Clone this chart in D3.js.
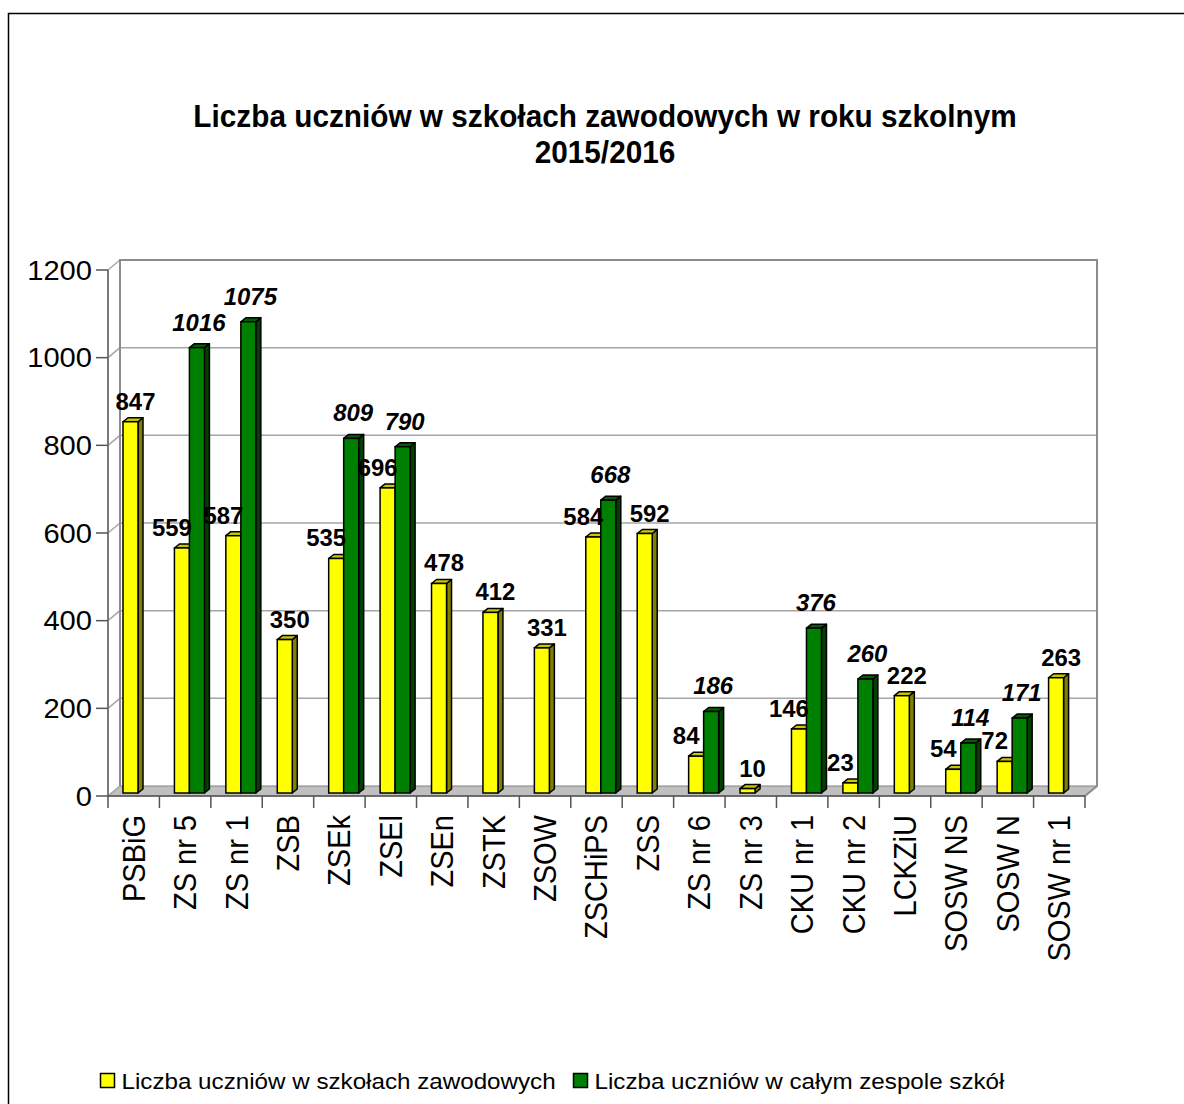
<!DOCTYPE html>
<html>
<head>
<meta charset="utf-8">
<script src="https://cdn.jsdelivr.net/npm/d3@7"></script>
<style>
  html, body { margin: 0; padding: 0; background: #fff; }
  svg { display: block; font-family: "Liberation Sans", Arial, sans-serif; }
</style>
</head>
<body>
<div id="chart"></div>
<script>
// dane
const categories = ["PSBiG", "ZS nr 5", "ZS nr 1", "ZSB", "ZSEk", "ZSEl", "ZSEn", "ZSTK", "ZSOW",
  "ZSCHiPS", "ZSS", "ZS nr 6", "ZS nr 3", "CKU nr 1", "CKU nr 2", "LCKZiU", "SOSW NS", "SOSW N", "SOSW nr 1"];
const zawodowe = [847, 559, 587, 350, 535, 696, 478, 412, 331, 584, 592, 84, 10, 146, 23, 222, 54, 72, 263];
const zespol = [null, 1016, 1075, null, 809, 790, null, null, null, 668, null, 186, null, 376, 260, null, 114, 171, null];
const yTicks = [0, 200, 400, 600, 800, 1000, 1200];
const seriesNames = ["Liczba uczniów w szkołach zawodowych", "Liczba uczniów w całym zespole szkół"];
const titleLines = ["Liczba uczniów w szkołach zawodowych w roku szkolnym", "2015/2016"];

const width = 1184;
const height = 1104;

const svg = d3.select("#chart")
  .append("svg")
  .attr("width", width)
  .attr("height", height);

// ramka wykresu (wychodzi poza kadr)
svg.append("rect")
  .attr("x", 8.5)
  .attr("y", 13.5)
  .attr("width", 1220)
  .attr("height", 1120)
  .attr("fill", "#fff")
  .attr("stroke", "#000")
  .attr("stroke-width", 1.5);

// fragment tekstu z poprzedniej strony (ucięty jak w oryginale)
svg.append("text")
  .attr("x", 24)
  .attr("y", -4)
  .attr("font-size", 20)
  .attr("font-weight", "bold")
  .attr("font-style", "italic")
  .text("y");

// tytuł
svg.append("g")
  .selectAll("text")
  .data(titleLines)
  .enter()
  .append("text")
  .attr("transform", (d, i) => `translate(605,${127 + i * 36}) scale(0.93,1)`)
  .attr("text-anchor", "middle")
  .attr("font-size", 32)
  .attr("font-weight", "bold")
  .text((d) => d);

// skale
const x = d3.scaleBand().domain(categories).range([108, 1085]).padding(0);
const y = d3.scaleLinear().domain([0, 1200]).range([796, 270]);
const inner = d3.scaleBand().domain([0, 1]).range([15, 45]).padding(0);

const dx = 12, dy = -10; // głębia ścian
const bx = 5, by = -4;   // głębia słupków
const lift = 3;

const g = svg.append("g");

// podłoga
g.append("path")
  .attr("d", `M${x.range()[0]},${y(0)}L${x.range()[1]},${y(0)}L${x.range()[1] + dx},${y(0) + dy}L${x.range()[0] + dx},${y(0) + dy}Z`)
  .attr("fill", "#c0c0c0")
  .attr("stroke", "#808080")
  .attr("stroke-width", 1);

// linie siatki na tylnej ścianie
g.append("g")
  .selectAll("line")
  .data(yTicks.filter((t) => t > 0))
  .enter()
  .append("line")
  .attr("x1", x.range()[0] + dx)
  .attr("x2", x.range()[1] + dx)
  .attr("y1", (d) => y(d) + dy)
  .attr("y2", (d) => y(d) + dy)
  .attr("stroke", "#a6a6a6")
  .attr("stroke-width", 1.5);

// skosy siatki na lewej ścianie
g.append("g")
  .selectAll("line")
  .data(yTicks)
  .enter()
  .append("line")
  .attr("x1", x.range()[0])
  .attr("x2", x.range()[0] + dx)
  .attr("y1", (d) => y(d))
  .attr("y2", (d) => y(d) + dy)
  .attr("stroke", "#a6a6a6")
  .attr("stroke-width", 1.5);

// krawędzie ścian
g.append("path")
  .attr("d", `M${x.range()[0] + dx},${y(0) + dy}V${y(1200) + dy}H${x.range()[1] + dx}V${y(0) + dy}L${x.range()[1]},${y(0)}`)
  .attr("fill", "none")
  .attr("stroke", "#8c8c8c")
  .attr("stroke-width", 2);

// oś Y
const yAxis = g.append("g");
yAxis.append("line")
  .attr("x1", x.range()[0]).attr("x2", x.range()[0])
  .attr("y1", y(0)).attr("y2", y(1200))
  .attr("stroke", "#7a7a7a")
  .attr("stroke-width", 2);
yAxis.selectAll(".tick")
  .data(yTicks)
  .enter()
  .append("line")
  .attr("x1", x.range()[0] - 12).attr("x2", x.range()[0])
  .attr("y1", (d) => y(d)).attr("y2", (d) => y(d))
  .attr("stroke", "#555")
  .attr("stroke-width", 1.5);
yAxis.selectAll("text")
  .data(yTicks)
  .enter()
  .append("text")
  .attr("transform", (d) => `translate(92,${y(d)}) scale(1.04,1)`)
  .attr("dy", "0.35em")
  .attr("text-anchor", "end")
  .attr("font-size", 28)
  .text((d) => d);

// oś X
const xAxis = g.append("g");
xAxis.append("line")
  .attr("x1", x.range()[0]).attr("x2", x.range()[1])
  .attr("y1", y(0)).attr("y2", y(0))
  .attr("stroke", "#555")
  .attr("stroke-width", 1.5);
xAxis.selectAll(".tick")
  .data(categories.concat([null]))
  .enter()
  .append("line")
  .attr("x1", (d, i) => x.range()[0] + i * x.bandwidth())
  .attr("x2", (d, i) => x.range()[0] + i * x.bandwidth())
  .attr("y1", y(0)).attr("y2", y(0) + 12)
  .attr("stroke", "#555")
  .attr("stroke-width", 1.5);
xAxis.selectAll("text")
  .data(categories)
  .enter()
  .append("text")
  .attr("transform", (d) => `translate(${x(d) + x.bandwidth() / 2},815) scale(1.08,1) rotate(-90)`)
  .attr("dy", "0.35em")
  .attr("text-anchor", "end")
  .attr("font-size", 29)
  .text((d) => d);

// słupki 3D
const palette = [
  { front: "#ffff00", top: "#c8c800", side: "#808000" },
  { front: "#008000", top: "#006000", side: "#004000" }
];

const bars = [];
categories.forEach((c, i) => {
  [zawodowe[i], zespol[i]].forEach((v, s) => {
    if (v === null) return;
    bars.push({ cat: c, s: s, v: v, paired: zespol[i] !== null });
  });
});

const barG = g.append("g");
bars.forEach((d) => {
  const x0 = x(d.cat) + inner(d.s);
  const w = inner.bandwidth();
  const top = y(d.v) - lift;
  const bottom = y(0) - lift;
  const col = palette[d.s];
  const bg = barG.append("g");
  bg.append("path")
    .attr("d", `M${x0 + w},${bottom}L${x0 + w + bx},${bottom + by}L${x0 + w + bx},${top + by}L${x0 + w},${top}Z`)
    .attr("fill", col.side)
    .attr("stroke", "#000")
    .attr("stroke-width", 1.5)
    .attr("stroke-linejoin", "round");
  bg.append("path")
    .attr("d", `M${x0},${top}L${x0 + bx},${top + by}L${x0 + w + bx},${top + by}L${x0 + w},${top}Z`)
    .attr("fill", col.top)
    .attr("stroke", "#000")
    .attr("stroke-width", 1.5)
    .attr("stroke-linejoin", "round");
  bg.append("rect")
    .attr("x", x0)
    .attr("y", top)
    .attr("width", w)
    .attr("height", bottom - top)
    .attr("fill", col.front)
    .attr("stroke", "#000")
    .attr("stroke-width", 1.5);
});

// etykiety wartości
g.append("g")
  .selectAll("text")
  .data(bars)
  .enter()
  .append("text")
  .attr("transform", (d) => {
    const cx = x(d.cat) + inner(d.s) + inner.bandwidth() / 2;
    const off = d.s === 1 ? 2 : (d.paired ? -10 : 5);
    const gap = d.s === 1 ? 17 : 12;
    return `translate(${cx + off},${y(d.v) - lift - gap}) scale(1.04,1)`;
  })
  .attr("text-anchor", "middle")
  .attr("font-size", 23)
  .attr("font-weight", "bold")
  .attr("font-style", (d) => (d.s === 1 ? "italic" : "normal"))
  .text((d) => d.v);

// legenda
const legendX = [100.5, 573.5];
const legend = svg.append("g")
  .selectAll("g")
  .data(seriesNames)
  .enter()
  .append("g")
  .attr("transform", (d, i) => `translate(${legendX[i]},1073.5)`);
legend.append("rect")
  .attr("width", 14)
  .attr("height", 14)
  .attr("fill", (d, i) => palette[i].front)
  .attr("stroke", "#000")
  .attr("stroke-width", 1.5);
legend.append("text")
  .attr("transform", "translate(21,15.5) scale(1.1,1)")
  .attr("font-size", 22)
  .text((d) => d);
</script>
</body>
</html>
